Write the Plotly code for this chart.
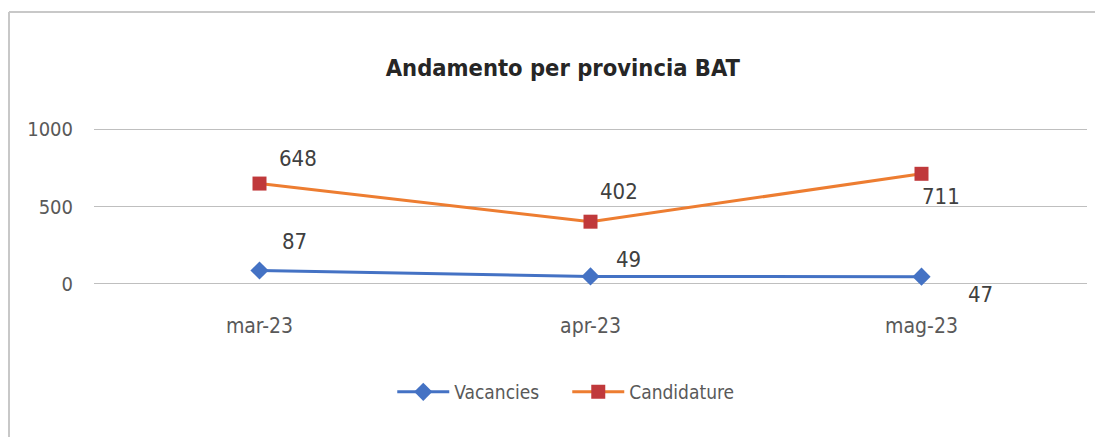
import plotly.graph_objects as go

months = ["mar-23", "apr-23", "mag-23"]
vacancies = [87, 49, 47]
candidature = [648, 402, 711]
y_ticks = [0, 500, 1000]

# label offsets (pixels) per point
vac_shift = [(35, 29), (38, 17), (59, -18)]
cand_shift = [(38, 25), (28, 30), (19, -23)]

FONT = "DejaVu Sans Condensed, Liberation Sans Narrow, Roboto, sans-serif"
GREY = "#595959"

fig = go.Figure()
fig.add_trace(go.Scatter(
    x=months, y=vacancies, name="Vacancies", mode="lines+markers",
    line=dict(color="#4472C4", width=3),
    marker=dict(symbol="diamond", size=14, color="#4472C4"),
))
fig.add_trace(go.Scatter(
    x=months, y=candidature, name="Candidature", mode="lines+markers",
    line=dict(color="#ED7D31", width=3),
    marker=dict(symbol="square", size=14, color="#C0393B"),
))

for series, shifts in ((vacancies, vac_shift), (candidature, cand_shift)):
    for m, v, (dx, dy) in zip(months, series, shifts):
        fig.add_annotation(x=m, y=v, text=str(v), showarrow=False,
                           xshift=dx, yshift=dy,
                           font=dict(family=FONT, size=22, color="#404040"))

H = 437
fig.update_layout(
    width=1103, height=H,
    margin=dict(l=86, r=24, t=119, b=159, autoexpand=False),
    paper_bgcolor="white", plot_bgcolor="white",
    title=dict(text="<b>Andamento per provincia BAT</b>", x=0.503, xanchor="center",
               yref="container", y=1 - 60 / H, yanchor="middle",
               font=dict(family=FONT, size=23.5, color="#262626")),
    xaxis=dict(type="category", range=[-0.5, 2.5], showgrid=False, showline=False,
               ticks="", automargin=False, ticklabelstandoff=25,
               tickfont=dict(family=FONT, size=21, color=GREY)),
    yaxis=dict(range=[-13, 1013], tickvals=y_ticks, showgrid=True, gridcolor="#BFBFBF",
               gridwidth=1, zeroline=False, showline=False, ticks="", automargin=False,
               ticklabelstandoff=20,
               tickfont=dict(family=FONT, size=20, color=GREY)),
    legend=dict(orientation="h", x=0.4766, xanchor="center",
                yref="container", y=1 - 384 / H, yanchor="middle",
                entrywidth=108, itemwidth=52,
                font=dict(family=FONT, size=19, color=GREY)),
    showlegend=True,
    shapes=[
        dict(type="line", xref="paper", yref="paper", x0=-0.0856, x1=1.05, y0=1.723, y1=1.723,
             line=dict(color="#C8C8C8", width=2)),
        dict(type="line", xref="paper", yref="paper", x0=-0.0856, x1=-0.0856, y0=1.723, y1=-1.1,
             line=dict(color="#C8C8C8", width=2)),
    ],
)

fig.write_html("out.html")
